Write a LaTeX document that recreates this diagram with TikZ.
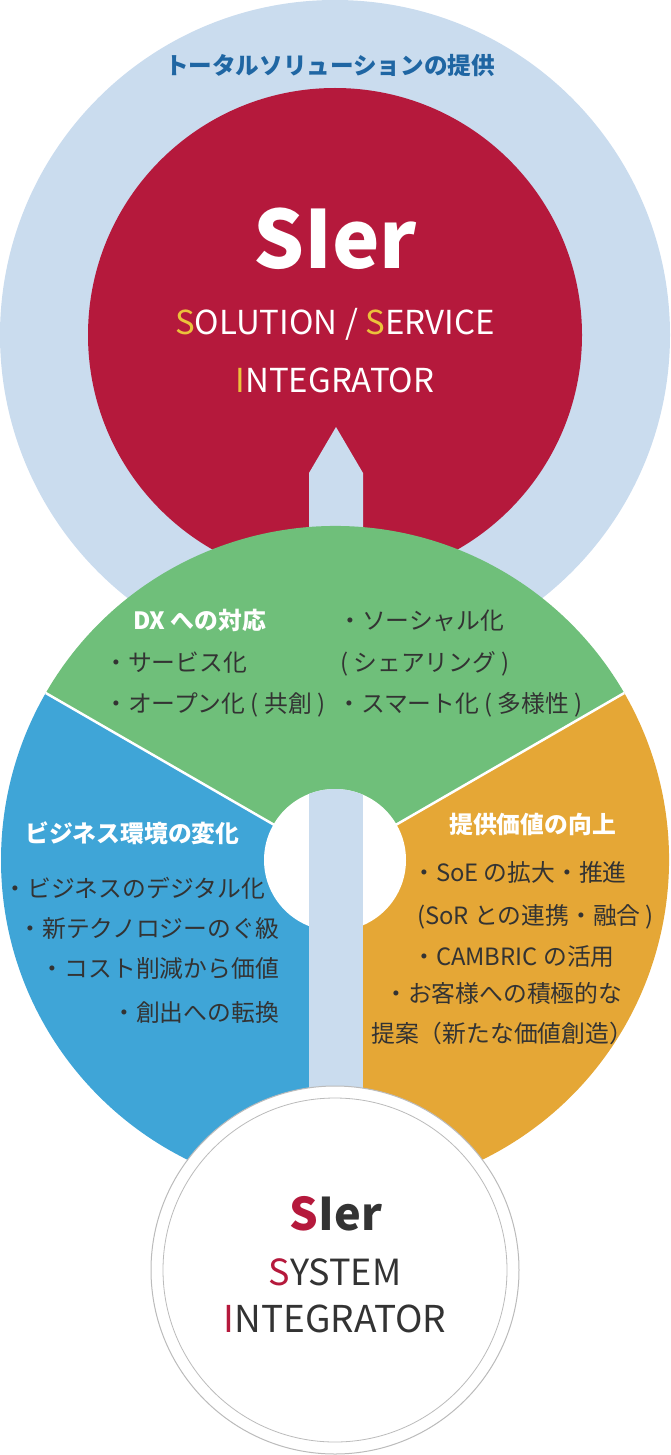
\documentclass[tikz,border=0pt]{standalone}
\usepackage{fontspec}
\setmainfont{Noto Sans CJK JP}
\usetikzlibrary{calc}
\definecolor{lblue}{HTML}{CADCEE}
\definecolor{sired}{HTML}{B5193C}
\definecolor{dxgreen}{HTML}{6FBF7A}
\definecolor{bizblue}{HTML}{3FA5D7}
\definecolor{valorange}{HTML}{E5A736}
\definecolor{titleblue}{HTML}{1F66A3}
\definecolor{siyellow}{HTML}{EBC23B}
\definecolor{txt}{HTML}{333333}
\definecolor{ringgrey}{HTML}{BBBBBB}
\tikzset{
  body/.style={font=\fontsize{23.8}{28}\selectfont, text=txt, inner sep=0pt},
  headw/.style={font=\fontsize{23.8}{28}\selectfont\bfseries, text=white, inner sep=0pt},
}
\begin{document}
\begin{tikzpicture}[x=1pt,y=-1pt]
\useasboundingbox (0,0) rectangle (670,1455);
\coordinate (top) at (335,335);
\coordinate (mid) at (335,860);
\coordinate (bot) at (335,1270);
% background circles
\fill[lblue] (top) circle[radius=335];
\fill[sired] (top) circle[radius=247];
% upward arrow
\fill[lblue] (336,427) -- (363,473) -- (363,600) -- (309,600) -- (309,473) -- cycle;
% sectors
\fill[dxgreen] (mid) -- ++(210:334) arc[start angle=210,end angle=330,radius=334] -- cycle;
\fill[bizblue] (mid) -- ++(90:334) arc[start angle=90,end angle=210,radius=334] -- cycle;
\fill[valorange] (mid) -- ++(-30:334) arc[start angle=-30,end angle=90,radius=334] -- cycle;
\draw[white, line width=2.5pt] (mid) -- ++(210:334);
\draw[white, line width=2.5pt] (mid) -- ++(330:334);
\fill[white] (mid) circle[radius=71];
% vertical bar
\begin{scope}
  \clip (mid) circle[radius=71];
  \fill[lblue] (309,780) rectangle (363,870);
\end{scope}
\fill[lblue] (309,860) rectangle (363,1110);
% bottom circle
\draw[ringgrey, fill=white, line width=1pt] (bot) circle[radius=184];
\draw[ringgrey, line width=0.8pt] (bot) circle[radius=172];

% title
\node[anchor=base, inner sep=0pt, text=titleblue, font=\fontsize{23.6}{28}\selectfont\bfseries] (title) at (330,75) {トータルソリューションの提供};
% top circle text
\node[anchor=base, inner sep=0pt, text=white, font=\fontsize{80}{90}\selectfont\bfseries] (sier1) at (335,269) {SIer};
\node[anchor=base, inner sep=0pt, text=white, font=\fontsize{33}{40}\selectfont] (sol) at (335,334) {{\color{siyellow}S}OLUTION / {\color{siyellow}S}ERVICE};
\node[anchor=base, inner sep=0pt, text=white, font=\fontsize{33}{40}\selectfont] (int1) at (335,392) {{\color{siyellow}I}NTEGRATOR};

% green
\node[headw, anchor=base west] (g0) at (133,629) {DX への対応};
\node[body, anchor=base west] (g1) at (104,671) {・サービス化};
\node[body, anchor=base west] (g2) at (104,712) {・オープン化 ( 共創 )};
\node[body, anchor=base west] (g3) at (338,629) {・ソーシャル化};
\node[body, anchor=base west] (g4) at (340,671) {( シェアリング )};
\node[body, anchor=base west] (g5) at (337,712) {・スマート化 ( 多様性 )};

% blue
\node[headw, anchor=base west] (b0) at (25,842) {ビジネス環境の変化};
\node[body, anchor=base east] (b1) at (265,897) {・ビジネスのデジタル化};
\node[body, anchor=base east] (b2) at (279,937) {・新テクノロジーのぐ級};
\node[body, anchor=base east] (b3) at (279,977) {・コスト削減から価値};
\node[body, anchor=base east] (b4) at (279,1021) {・創出への転換};

% orange
\node[headw, anchor=base west] (o0) at (449,833) {提供価値の向上};
\node[body, anchor=base west] (o1) at (412,881) {・SoE の拡大・推進};
\node[body, anchor=base west] (o2) at (417,924) {(SoR との連携・融合 )};
\node[body, anchor=base west] (o3) at (412,965) {・CAMBRIC の活用};
\node[body, anchor=base west] (o4) at (384,1002) {・お客様への積極的な};
\node[body, anchor=base west] (o5) at (371,1042) {提案（新たな価値創造）};

% bottom circle text
\node[anchor=base, inner sep=0pt, text=txt, font=\fontsize{45}{52}\selectfont\bfseries] (sier2) at (336,1230) {{\color{sired}S}Ier};
\node[anchor=base, inner sep=0pt, text=txt, font=\fontsize{36}{42}\selectfont] (sys) at (335,1285) {{\color{sired}S}YSTEM};
\node[anchor=base, inner sep=0pt, text=txt, font=\fontsize{37}{42}\selectfont] (int2) at (335,1332) {{\color{sired}I}NTEGRATOR};
\end{tikzpicture}
\end{document}
